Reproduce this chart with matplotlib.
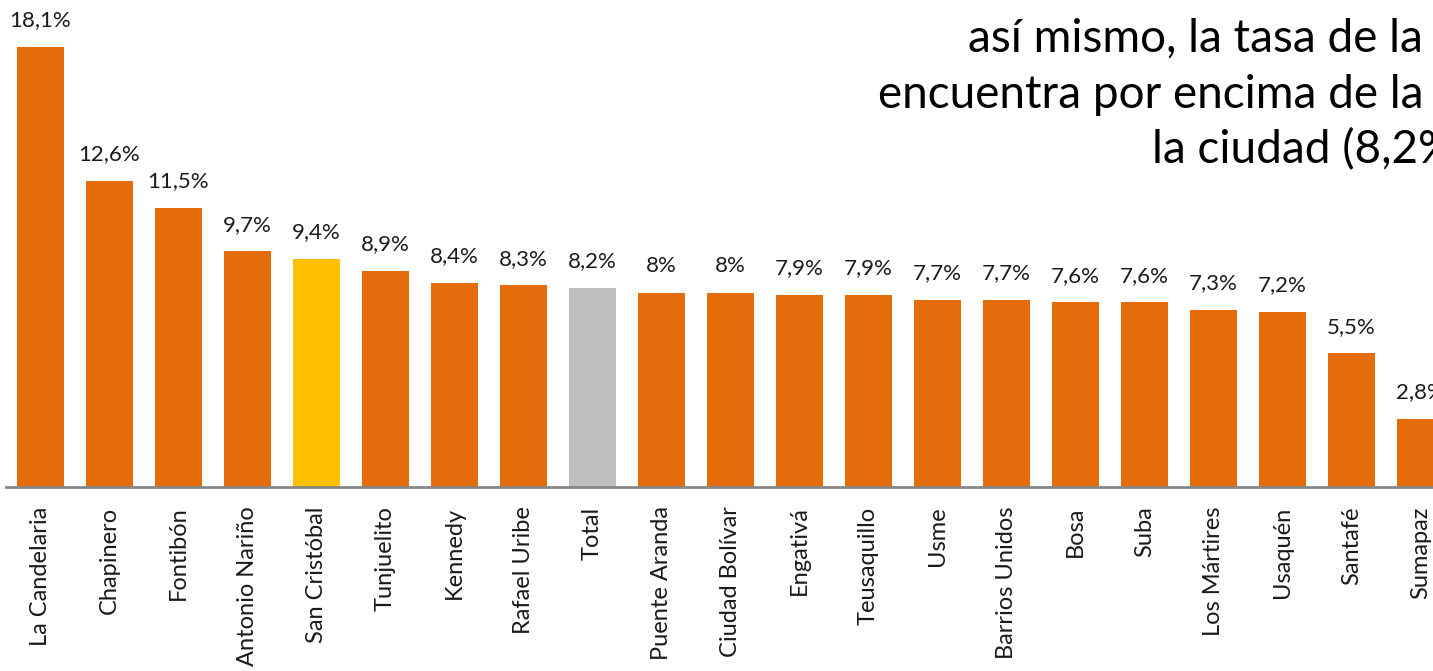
import matplotlib
matplotlib.use("Agg")
import matplotlib.pyplot as plt

plt.rcParams["font.family"] = ["Lato", "DejaVu Sans"]

# datos: tasa por localidad (%)
localidades = [
    "La Candelaria", "Chapinero", "Fontibón", "Antonio Nariño", "San Cristóbal",
    "Tunjuelito", "Kennedy", "Rafael Uribe", "Total", "Puente Aranda",
    "Ciudad Bolívar", "Engativá", "Teusaquillo", "Usme", "Barrios Unidos",
    "Bosa", "Suba", "Los Mártires", "Usaquén", "Santafé", "Sumapaz",
]
tasas = [18.1, 12.6, 11.5, 9.7, 9.4, 8.9, 8.4, 8.3, 8.2, 8.0, 8.0,
         7.9, 7.9, 7.7, 7.7, 7.6, 7.6, 7.3, 7.2, 5.5, 2.8]
etiquetas = [f"{v:g}%".replace(".", ",") for v in tasas]
titulo = [
    "así mismo, la tasa de la localidad se",
    "encuentra por encima de la del total de",
    "la ciudad (8,2%).",
]

naranja = "#E46C0A"
colores = []
for nombre in localidades:
    if nombre == "San Cristóbal":
        colores.append("#FFC000")
    elif nombre == "Total":
        colores.append("#BFBFBF")
    else:
        colores.append(naranja)

fig = plt.figure(figsize=(14.33, 6.71), dpi=100)
ax = fig.add_axes([6 / 1433, 184 / 671, 1427 / 1433, 487 / 671])

x = list(range(len(localidades)))
barras = ax.bar(x, tasas, width=0.68, color=colores, edgecolor="none")
ax.bar_label(barras, labels=etiquetas, padding=12, fontsize=16, color="#1a1a1a")

ax.set_xlim(-0.5, 20.18)
ax.set_ylim(0, 20.04)
ax.set_xticks(x)
ax.set_xticklabels(localidades, rotation=90, fontsize=17, color="#1a1a1a")
ax.tick_params(axis="x", length=0, pad=14)
ax.set_yticks([])
for lado in ["top", "right", "left"]:
    ax.spines[lado].set_visible(False)
ax.spines["bottom"].set_color("#868686")
ax.spines["bottom"].set_linewidth(2)

# texto del titulo (recortado a la derecha como en la imagen)
inicios = [968, 878, 1152]
bases = [52, 108, 163]
for linea, x0, y0 in zip(titulo, inicios, bases):
    fig.text(x0 / 1433, 1 - y0 / 671, linea, fontsize=33, ha="left",
             va="baseline", color="black")

fig.savefig("out.png", dpi=100)
